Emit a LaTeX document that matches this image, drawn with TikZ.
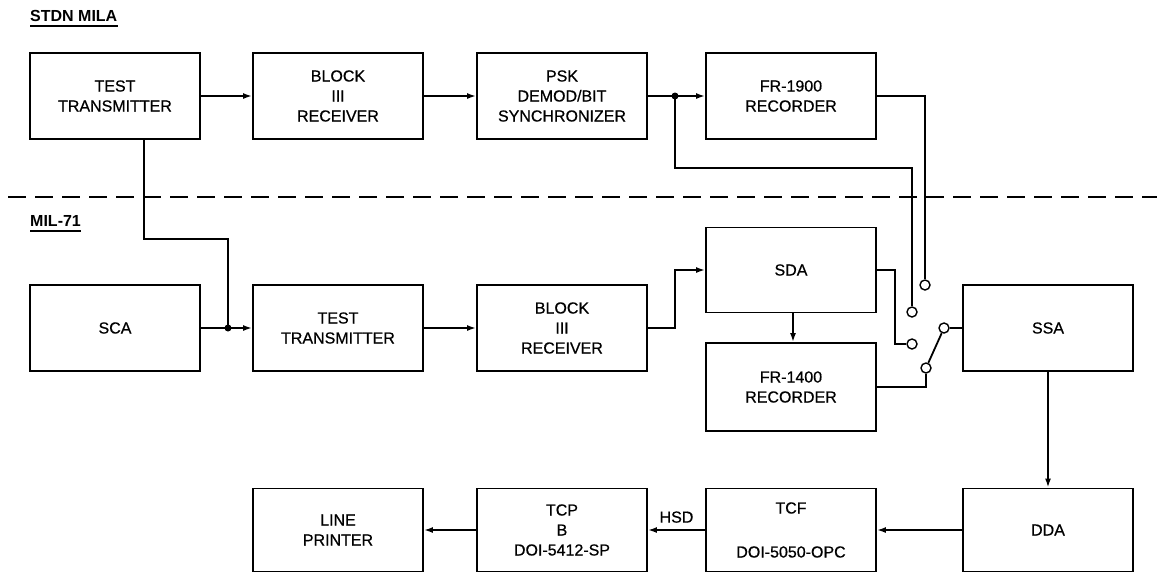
\documentclass[tikz,border=0pt]{standalone}
\usepackage{fontspec}
\setmainfont{Liberation Sans}
\newfontfamily\boxfont[FakeBold=0.6]{Liberation Sans}
\usetikzlibrary{arrows.meta,positioning,calc}

\begin{document}
\begin{tikzpicture}[x=1pt,y=-1pt,
  blk/.style={draw,line width=1.8pt,minimum width=170pt,minimum height=86pt,
              align=center,font=\boxfont\fontsize{16}{20}\selectfont,inner sep=2pt},
  arr/.style={-{Latex[length=9pt,width=6pt]},line width=1.8pt},
  wire/.style={line width=1.8pt},
  term/.style={draw,circle,line width=1.4pt,fill=white,minimum size=10pt,inner sep=0pt},
  dot/.style={circle,fill,inner sep=0pt,minimum size=7pt},
  sep/.style={line width=1.8pt,dash pattern=on 18pt off 9pt},
  hdr/.style={font=\bfseries\fontsize{16}{20}\selectfont,anchor=west,inner sep=0pt}
]
\useasboundingbox (0,0) rectangle (1157,574);

% site labels and boundary
\node[hdr] (stdn) at (30,16)  {STDN MILA};
\node[hdr] (mil)  at (30,221) {MIL-71};
\draw[wire] ([yshift=-4pt]stdn.south west) -- ([yshift=-4pt]stdn.south east);
\draw[wire] ([yshift=-4pt]mil.south west) -- ([yshift=-4pt]mil.south east);
\draw[sep] (8,197) -- (1157,197);

% STDN MILA chain
\node[blk] (stx)  at (115,96)  {TEST\\TRANSMITTER};
\node[blk] (srx)  at (338,96)  {BLOCK\\III\\RECEIVER};
\node[blk] (psk)  at (562,96)  {PSK\\DEMOD/BIT\\SYNCHRONIZER};
\node[blk] (fr19) at (791,96)  {FR-1900\\RECORDER};

% MIL-71 chain
\node[blk] (sca)  at (115,328) {SCA};
\node[blk] (mtx)  at (338,328) {TEST\\TRANSMITTER};
\node[blk] (mrx)  at (562,328) {BLOCK\\III\\RECEIVER};
\node[blk,minimum height=85pt] (sda)  at (791,270) {SDA};
\node[blk,minimum height=88pt] (fr14) at (791,387) {FR-1400\\RECORDER};
\node[blk] (ssa)  at (1048,328) {SSA};

% output chain
\node[blk,minimum height=83pt] (lp)  at (338,530)  {LINE\\PRINTER};
\node[blk,minimum height=83pt] (tcp) at (562,530)  {TCP\\B\\DOI-5412-SP};
\node[blk,minimum height=83pt] (tcf) at (791,530)  {TCF\\[24pt]DOI-5050-OPC};
\node[blk,minimum height=83pt] (dda) at (1048,530) {DDA};

% switch contacts
\node[term] (sw1900) at (925,285) {};
\node[term] (swpsk)  at (912,312) {};
\node[term] (swsda)  at (912,344) {};
\node[term] (swfr)   at (926,368) {};
\node[term] (swarm)  at (944,328) {};

% junctions
\coordinate (jpsk) at (675,96);
\coordinate (jsca) at (228,328);

\draw[arr] (stx.east) -- (srx.west);
\draw[arr] (srx.east) -- (psk.west);
\draw[arr] (psk.east) -- (fr19.west);
\node[dot] at (jpsk) {};
\draw[wire] (jpsk) -- ++(0,72) -| (swpsk);
\draw[wire] (fr19.east) -| (sw1900);

\draw[wire] ([xshift=29pt]stx.south) -- ++(0,99) -| (jsca);
\draw[arr] (sca.east) -- (mtx.west);
\node[dot] at (jsca) {};
\draw[arr] (mtx.east) -- (mrx.west);
\draw[arr] (mrx.east) -- ++(27,0) |- (sda.west);
\draw[arr] ([xshift=2pt]sda.south) -- ([xshift=2pt]fr14.north);
\draw[wire] (sda.east) -- ++(18,0) |- (swsda);
\draw[wire] (fr14.east) -| (swfr);
\draw[wire] (swfr) -- (swarm);
\draw[wire] (swarm) -- (swarm -| ssa.west);

\draw[arr] (ssa.south) -- (dda.north);
\draw[arr] (dda.west) -- (tcf.east);
\draw[arr] (tcf.west) -- (tcp.east) node[midway,above=3pt,font=\boxfont\fontsize{16}{20}\selectfont]{HSD};
\draw[arr] (tcp.west) -- (lp.east);
\end{tikzpicture}
\end{document}
